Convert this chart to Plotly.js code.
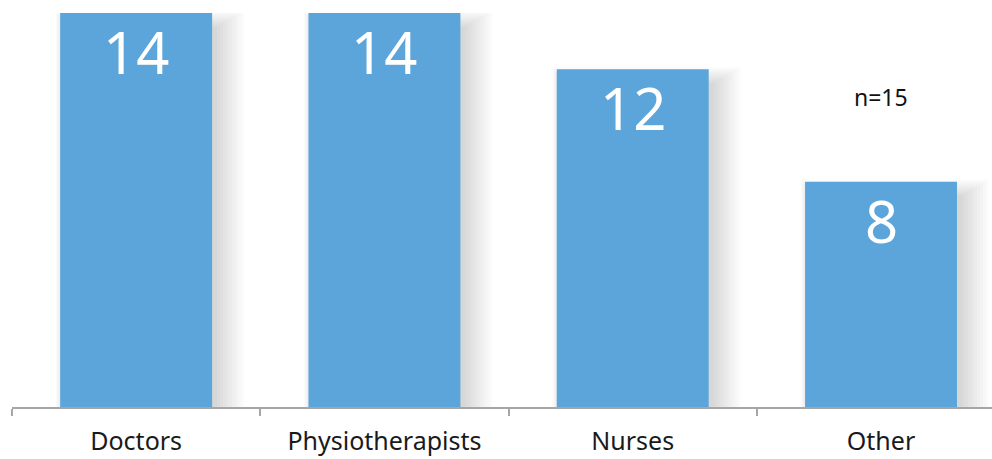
<!DOCTYPE html>
<html>
<head>
<meta charset="utf-8">
<script src="https://cdn.plot.ly/plotly-3.0.1.min.js"></script>
<style>html,body{margin:0;padding:0;background:#fff;}#chart{width:992px;height:459px;}</style>
</head>
<body>
<div id="chart"></div>
<script>
const categories = ["Doctors", "Physiotherapists", "Nurses", "Other"];
const counts = [14, 14, 12, 8];
const sampleNote = "n=15";

const barColor = "#5ba5da";
const shapes = [];
const layers = 10;
categories.forEach(function (c, i) {
  for (let k = 1; k <= layers; k++) {
    const s = k * 3;
    shapes.push({
      type: "rect", layer: "below",
      xref: "x", yref: "y",
      xsizemode: "pixel", ysizemode: "pixel",
      xanchor: c, yanchor: counts[i],
      x0: -76 + 6 - s * 0.35, x1: 76 + 2 + s,
      y0: -1200, y1: -16 + s * 0.6,
      line: {width: 0},
      fillcolor: "rgba(0,0,0,0.016)"
    });
  }
});

const annotations = categories.map(function (c, i) {
  return {
    x: c, y: counts[i], xref: "x", yref: "y",
    text: String(counts[i]), showarrow: false,
    yanchor: "top", yshift: 3,
    font: {family: "Noto Sans", size: 58, color: "#ffffff"}
  };
});
annotations.push({
  x: categories[3], y: 11, xref: "x", yref: "y",
  text: sampleNote, showarrow: false, yanchor: "middle",
  font: {family: "Noto Sans", size: 23, color: "#111111"}
});

const data = [{
  type: "bar",
  x: categories,
  y: counts,
  marker: {color: barColor, line: {width: 0}},
  hoverinfo: "skip"
}];

const layout = {
  width: 992, height: 459,
  margin: {l: 12, r: 0, t: 13, b: 52},
  paper_bgcolor: "#ffffff",
  plot_bgcolor: "#ffffff",
  bargap: 0.388,
  showlegend: false,
  xaxis: {
    type: "category",
    range: [-0.5, 3.447],
    showline: true, linecolor: "#a6a6a6", linewidth: 2,
    ticks: "outside", tickson: "boundaries", ticklen: 7, tickwidth: 2, tickcolor: "#a6a6a6",
    tickfont: {family: "Noto Sans", size: 25, color: "#1a1a1a"},
    ticklabelstandoff: 11,
    showgrid: false, zeroline: false, fixedrange: true
  },
  yaxis: {
    range: [0, 14], visible: false, showgrid: false, zeroline: false, fixedrange: true
  },
  shapes: shapes,
  annotations: annotations
};

Plotly.newPlot("chart", data, layout, {displayModeBar: false, staticPlot: true});
</script>
</body>
</html>
